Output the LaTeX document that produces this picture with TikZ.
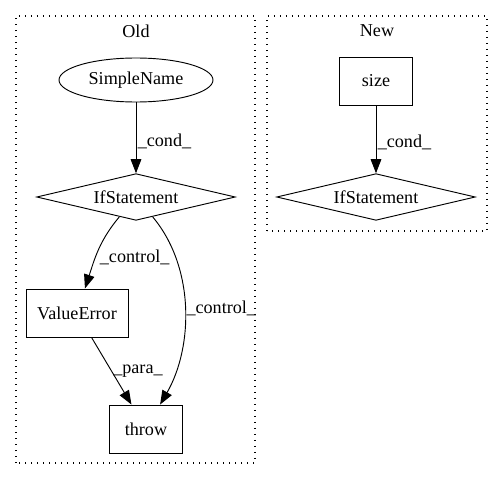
\documentclass[tikz,border=0pt]{standalone}
\usepackage{fontspec}
\setmainfont{Liberation Serif}
\usetikzlibrary{shapes.geometric,arrows.meta}
\begin{document}
\begin{tikzpicture}[
    x=0.75pt, y=0.75pt,
    font=\fontsize{13.6}{16}\selectfont,
    cluster/.style={draw, line width=0.9pt, dash pattern=on 0.8pt off 3.7pt},
    expr/.style={ellipse, draw, line width=0.7pt, minimum width=115.5pt, minimum height=33pt, inner sep=0pt},
    stmt/.style={diamond, draw, line width=0.7pt, shape aspect=4.2, minimum width=149pt, minimum height=35pt, inner sep=0pt},
    call/.style={rectangle, draw, line width=0.7pt, minimum height=36pt, inner sep=0pt},
    flow/.style={-{Triangle[length=10.5pt, width=8pt]}, line width=0.7pt},
    lbl/.style={inner sep=1pt}
]
\useasboundingbox (0,0) rectangle (501,480);

% clusters
\draw[cluster] (16,17) rectangle (255,464);
\draw[cluster] (267,249) rectangle (487,464);
\node (oldtitle) at (136,449) {Old};
\node (newtitle) at (377,449) {New};

% old
\node[expr] (simplename) at (136,400) {SimpleName};
\node[stmt] (ifold) at (136,283) {IfStatement};
\node[call, minimum width=76.5pt] (valueerror) at (77,167) {ValueError};
\node[call, minimum width=55pt] (throw) at (146,51) {throw};

% new
\node[call, minimum width=55pt] (size) at (376,399) {size};
\node[stmt] (ifnew) at (376,283) {IfStatement};

\draw[flow] (simplename) -- (ifold) node[lbl, pos=0.55, right] {\_cond\_};
\draw[flow] (ifold) to[out=-130, in=72] node[lbl, inner sep=3pt, pos=0.6, right] {\_control\_} (valueerror);
\draw[flow] (ifold) to[out=-50, in=60, looseness=0.9] node[lbl, pos=0.5, right] {\_control\_} (throw);
\draw[flow] (valueerror) -- (throw) node[lbl, pos=0.5, right] {\_para\_};
\draw[flow] (size) -- (ifnew) node[lbl, pos=0.55, right] {\_cond\_};
\end{tikzpicture}
\end{document}
